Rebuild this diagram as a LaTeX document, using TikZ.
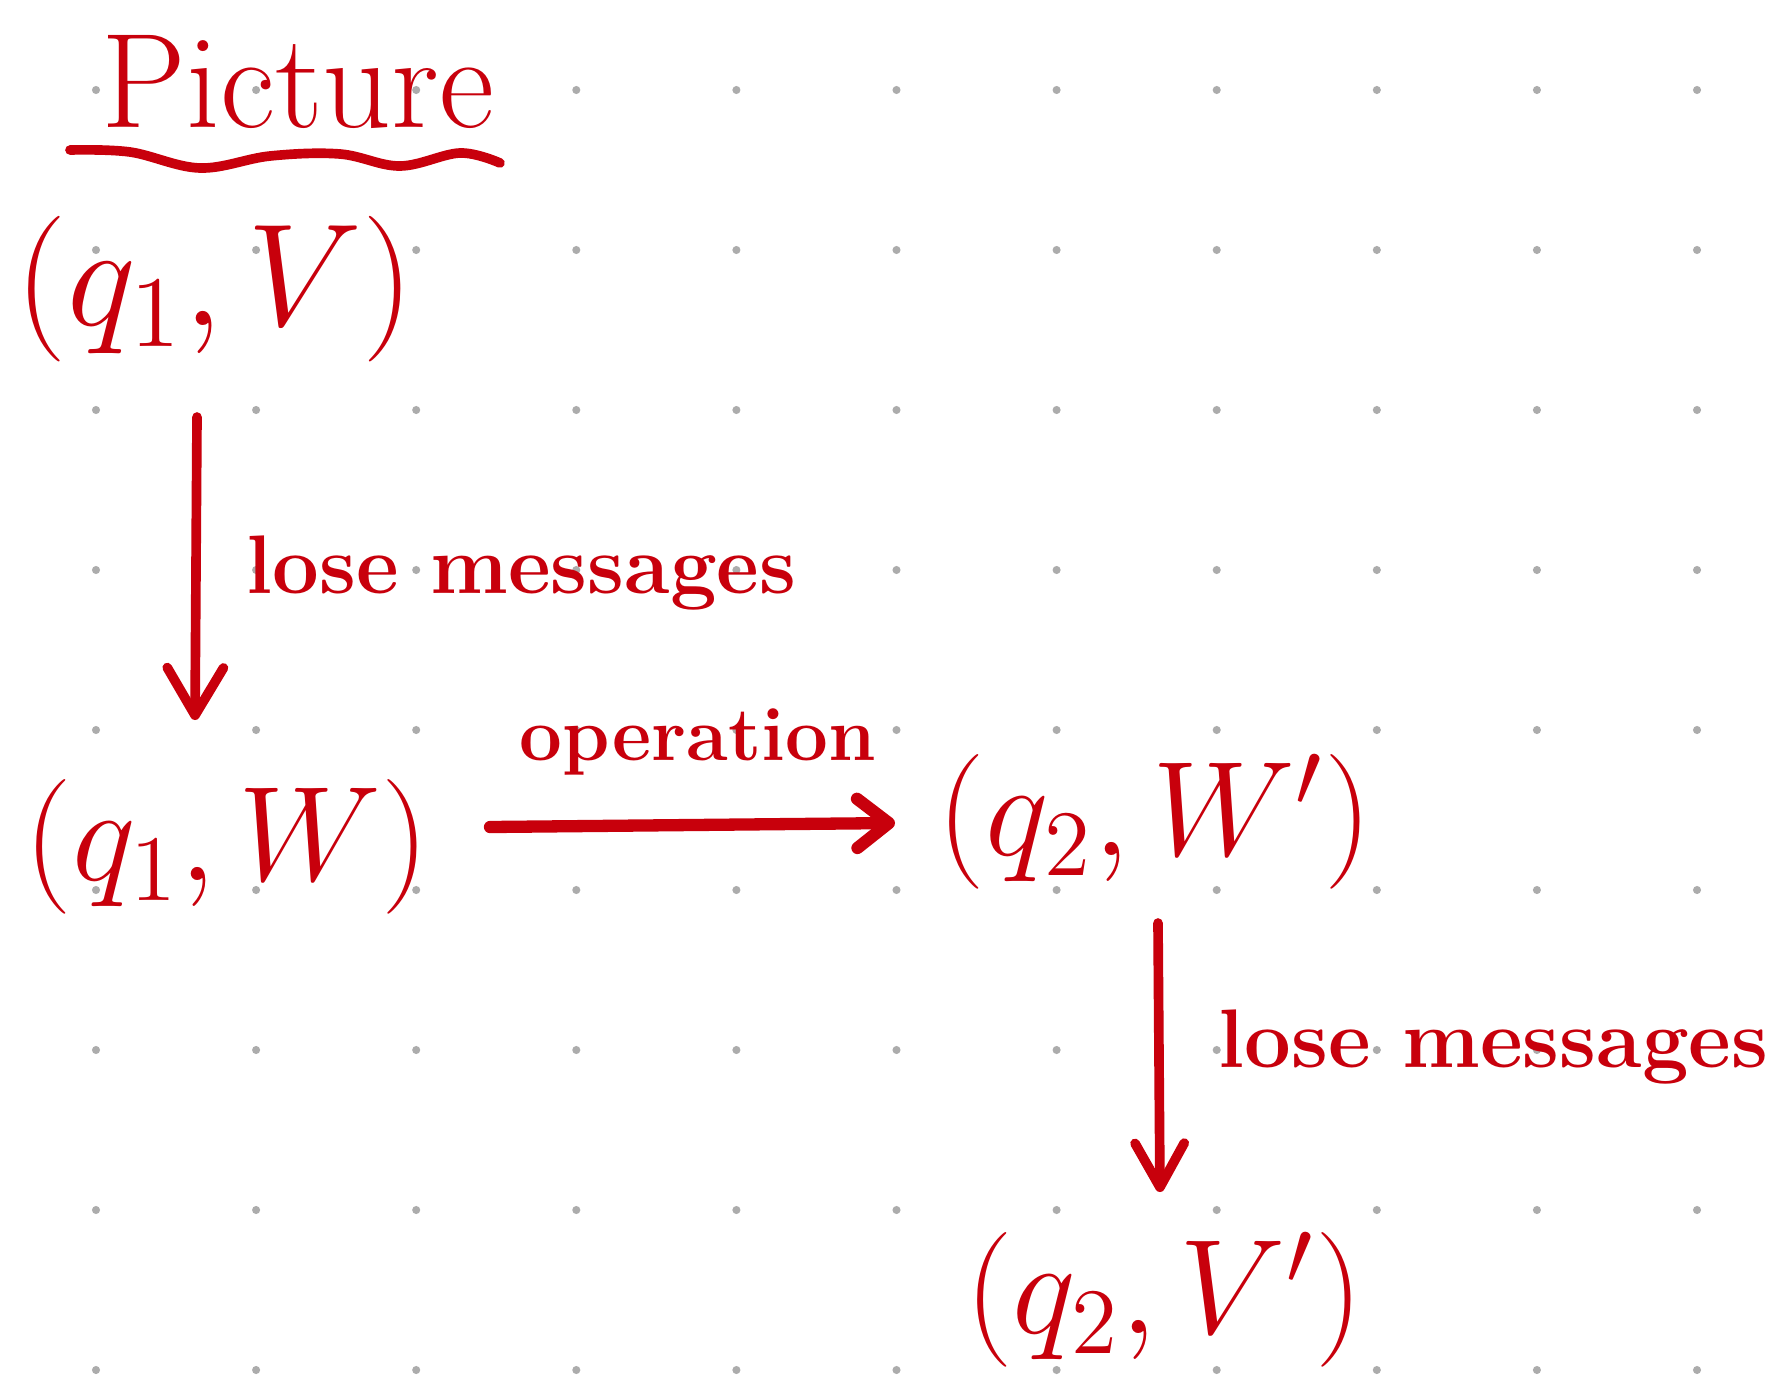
\documentclass[tikz,border=0pt]{standalone}
\usetikzlibrary{arrows.meta,calc}
\definecolor{ink}{RGB}{200,0,12}
\definecolor{dotgray}{RGB}{172,172,172}
\begin{document}
\begin{tikzpicture}[x=0.02cm,y=-0.02cm,
  state/.style={text=ink, inner sep=0pt, anchor=base, font=\huge},
  lbl/.style={text=ink, inner sep=0pt, font=\huge},
  boldlbl/.style={lbl, font=\huge\bfseries},
  flow/.style={draw=ink, line width=5.5pt, line cap=round,
    -{Straight Barb[round,length=27pt,width=32pt]}},
]
\fill[white] (0,0) rectangle (1781,1376);
\useasboundingbox (0,0) rectangle (1781,1376);
\foreach \i in {0,...,10}{\foreach \j in {0,...,8}{
  \fill[dotgray] ({96+160.1*\i},{90+160*\j}) circle[radius=2.3pt];}}

% title and wavy underline
\node[lbl, scale=3.7, anchor=base] (title) at (298,127) {Picture};
\draw[ink, line width=5.5pt, line cap=round] plot[smooth, tension=0.6]
  coordinates {(70,150) (130,152) (200,168) (270,156) (340,154) (400,166) (460,153) (500,163)};

% states
\node[state, scale=4]   (qv)  at (215,325)  {$(q_1, V)$};
\node[state, scale=3.7] (qw)  at (227,880)  {$(q_1, W)$};
\node[state, scale=3.7] (qw2) at (1155,855) {$(q_2, W')$};
\node[state, scale=3.7] (qv2) at (1164,1333) {$(q_2, V')$};

% labels
\node[boldlbl, scale=2.28, anchor=base west] (lm1) at (246,593)  {lose messages};
\node[boldlbl, scale=2.28, anchor=base west] (lm2) at (1218,1067) {lose messages};
\node[boldlbl, scale=2.09, anchor=base] (op) at (698,760) {operation};

% connectors
\draw[flow] ($(qv.base)+(-18,92)$) -- ($(qw.base)+(-32,-160)$);
\draw[flow, line width=7pt, -{Straight Barb[round,length=18pt,width=28pt]}]
  ($(qw.base)+(263,-53)$) -- ($(qw2.base)+(-260,-32)$);
\draw[flow, -{Straight Barb[round,length=25pt,width=28pt]}]
  ($(qw2.base)+(3,68)$) -- ($(qv2.base)+(-4,-141)$);
\end{tikzpicture}
\end{document}
